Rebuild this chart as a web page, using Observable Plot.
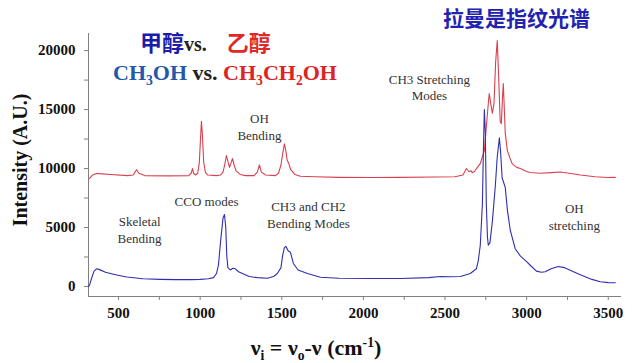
<!DOCTYPE html>
<html><head><meta charset="utf-8">
<script src="https://cdn.jsdelivr.net/npm/d3@7"></script>
<script src="https://cdn.jsdelivr.net/npm/@observablehq/plot@0.6"></script>
<style>
body{margin:0;background:#fff;}
#wrap{position:relative;width:636px;height:363px;overflow:hidden;font-family:"Liberation Serif","Times New Roman",serif;}
.ov{position:absolute;white-space:nowrap;line-height:1;}
.cjk{font-family:"Noto Sans CJK SC",sans-serif;}
sub,sup{font-size:62%;line-height:0;}
</style></head><body>
<div id="wrap"></div>
<script>
// Methanol (CH3OH), blue
const methanolWavenumber = [316,322,335,350,365,380,420,482,550,650,757,850,941,1000,1050,1082,1100,1112,1125,1140,1149,1157,1163,1170,1185,1200,1216,1235,1259,1300,1350,1412,1450,1473,1495,1505,1516,1525,1540,1553,1571,1600,1657,1737,1850,2043,2227,2400,2471,2533,2594,2655,2692,2704,2716,2729,2735,2741,2747,2753,2760,2765,2775,2790,2808,2820,2833,2840,2850,2869,2882,2900,2930,2961,3000,3022,3060,3090,3114,3150,3194,3230,3280,3329,3400,3451,3500,3543];
const methanolIntensity = [0,100,700,1300,1500,1450,1200,1000,800,650,600,580,580,600,650,750,1100,1800,3800,5800,6100,5000,2600,1600,1400,1550,1500,1250,1100,850,750,700,850,1100,1600,2600,3300,3400,3000,2900,1950,1400,1100,780,700,680,680,750,850,820,850,1100,1500,2200,3500,7000,11500,15000,13000,7000,4200,3500,3700,5500,8500,11000,12600,11500,9200,8400,6500,4750,3200,2600,2100,1800,1300,1200,1250,1500,1700,1600,1300,1000,600,400,330,320];

// Ethanol (CH3CH2OH), red
const ethanolWavenumber = [322,340,365,400,451,555,590,610,625,660,800,930,945,953,960,971,985,995,1002,1008,1014,1022,1032,1045,1100,1124,1140,1150,1161,1170,1180,1190,1198,1208,1220,1245,1278,1330,1350,1363,1375,1400,1461,1480,1495,1506,1516,1525,1533,1541,1555,1580,1614,1700,1850,2043,2227,2450,2560,2610,2631,2645,2660,2667,2680,2704,2716,2729,2741,2753,2765,2771,2780,2790,2800,2810,2820,2828,2838,2845,2852,2857,2862,2869,2882,2900,2912,2940,2961,3000,3022,3084,3150,3206,3260,3329,3420,3494,3543];
const ethanolIntensity = [9150,9450,9580,9550,9500,9400,9450,9900,9600,9400,9380,9400,9600,10000,9600,9450,9600,10500,12500,14000,12800,10500,9700,9450,9400,9450,9700,10300,11100,10600,10100,10500,10850,10300,9800,9500,9400,9400,9700,10300,9700,9450,9400,9600,10300,11300,12100,11500,10700,10500,9900,9500,9350,9300,9250,9240,9250,9280,9300,9450,10000,9750,9800,9650,9750,10200,10420,11000,11500,13500,15500,16360,15500,14700,15500,19000,20850,18000,14000,13800,16000,17200,15500,13000,11500,10800,10400,10100,10000,9750,9660,9600,9650,9700,9600,9450,9300,9240,9250];

// Axis ticks
const xTickLabels = [500,1000,1500,2000,2500,3000,3500];
const xTicks = [500,750,1000,1250,1500,1750,2000,2250,2500,2750,3000,3250,3500];
const yTickLabels = [0,5000,10000,15000,20000];
const yTicks = [0,2500,5000,7500,10000,12500,15000,17500,20000];

// Annotations
const annotationText = ["Skeletal\nBending","CCO modes","OH\nBending","CH3 and CH2\nBending Modes","CH3 Stretching\nModes","OH\nstretching"];
const annotationWavenumber = [629,1039,1363,1663,2404,3292];
const annotationIntensity = [4870,7290,13600,6140,16950,5980];

const methanol = methanolWavenumber.map((x,i)=>({x, y: methanolIntensity[i]}));
const ethanol = ethanolWavenumber.map((x,i)=>({x, y: ethanolIntensity[i]}));
const notes = annotationText.map((t,i)=>({t, x: annotationWavenumber[i], y: annotationIntensity[i]}));

const serif = "Liberation Serif, Times New Roman, serif";
const chart = Plot.plot({
  width: 636, height: 363,
  marginLeft: 88, marginRight: 16, marginTop: 33, marginBottom: 67,
  style: {fontFamily: serif, background: "#fff", overflow: "visible"},
  x: {domain: [316, 3575]},
  y: {domain: [-850, 21450]},
  marks: [
    Plot.frame({anchor: "left", stroke: "#808080"}),
    Plot.frame({anchor: "bottom", stroke: "#808080"}),
    Plot.axisY(yTicks, {tickSize: 4, tickFormat: () => "", stroke: "#808080", label: null}),
    Plot.axisY(yTickLabels, {tickSize: 0, tickPadding: 13, tickFormat: d => String(d), fontSize: 15, fontWeight: "bold", fill: "#111", label: null}),
    Plot.axisX(xTicks, {tickSize: 4, tickFormat: () => "", stroke: "#808080", label: null}),
    Plot.axisX(xTickLabels, {tickSize: 0, tickPadding: 11, tickFormat: d => String(d), fontSize: 15, fontWeight: "bold", fill: "#111", label: null}),
    Plot.line(ethanol, {x: "x", y: "y", stroke: "#d9404f", strokeWidth: 1.1}),
    Plot.line(methanol, {x: "x", y: "y", stroke: "#2f2fb0", strokeWidth: 1.1}),
    Plot.text(notes, {x: "x", y: "y", text: "t", fontSize: 13, fill: "#333", fontFamily: serif, lineHeight: 1.3, textAnchor: "middle", lineAnchor: "middle"})
  ]
});
const wrap = document.getElementById("wrap");
wrap.appendChild(chart);

function overlay(html, css) {
  const d = document.createElement("div");
  d.className = "ov";
  d.innerHTML = html;
  Object.assign(d.style, css);
  wrap.appendChild(d);
}
overlay('<span class="cjk" style="color:#2222b0;font-weight:700">拉曼是指纹光谱</span>', {left: "443px", top: "7px", fontSize: "21px"});
overlay('<span class="cjk" style="color:#1c1ca8;font-weight:700">甲醇</span><span style="font-weight:700;color:#222;font-size:20px">vs.</span><span class="cjk" style="color:#e02828;font-weight:700;margin-left:20px">乙醇</span>', {left: "140px", top: "30px", fontSize: "22px"});
overlay('<span style="color:#2458a8">CH<sub>3</sub>OH</span> <span style="color:#222">vs.</span> <span style="color:#dd2424">CH<sub>3</sub>CH<sub>2</sub>OH</span>', {left: "113px", top: "62px", fontSize: "22px", fontWeight: "700"});
overlay('Intensity (A.U.)', {left: "20px", top: "160px", fontSize: "20px", fontWeight: "700", color: "#111", transform: "translate(-50%,-50%) rotate(-90deg)"});
overlay('ν<sub>i</sub> = ν<sub>o</sub>-ν (cm<sup>-1</sup>)', {left: "316px", top: "348px", fontSize: "22px", fontWeight: "700", color: "#111", transform: "translate(-50%,-50%)"});
</script>
</body></html>
